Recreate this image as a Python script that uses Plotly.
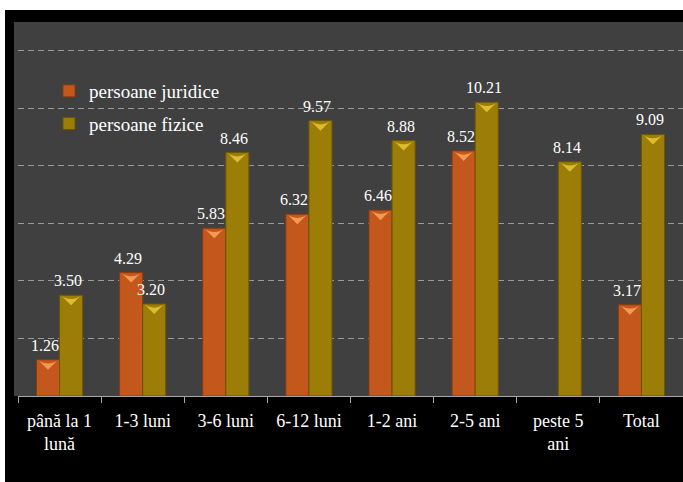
import plotly.graph_objects as go

categories = ["până la 1<br>lună", "1-3 luni", "3-6 luni", "6-12 luni", "1-2 ani", "2-5 ani", "peste 5<br>ani", "Total"]
juridice = [1.26, 4.29, 5.83, 6.32, 6.46, 8.52, None, 3.17]
fizice = [3.50, 3.20, 8.46, 9.57, 8.88, 10.21, 8.14, 9.09]
series_names = ["persoane juridice", "persoane fizice"]

FONT = "Liberation Serif"
BODY = ["#C4581C", "#9C7D07"]
EDGE = ["#8A3A0E", "#6B5604"]
CAP = ["#F39A52", "#DDBD2E"]

W, H = 683, 482
L, R, T, B = 18, 0, 22, 86
PW, PH = W - L - R, H - T - B
YMAX = 13
BARGAP = 0.445
bw = (1 - BARGAP) / 2
idx = list(range(len(categories)))

fig = go.Figure()
annotations = []
for k, vals in enumerate([juridice, fizice]):
    fig.add_trace(go.Bar(
        x=idx, y=vals, name=series_names[k],
        marker=dict(color=BODY[k], line=dict(color=EDGE[k], width=1)),
        legendgroup=str(k),
        hoverinfo="y",
    ))
    off = (k - 0.5) * bw
    for i, v in zip(idx, vals):
        if v is None:
            continue
        annotations.append(dict(
            x=i + off, y=v, xref="x", yref="y", text="%.2f" % v, showarrow=False,
            yanchor="bottom", xanchor="center", yshift=4, xshift=-3,
            font=dict(family=FONT, size=16, color="white"),
        ))

# pyramid caps on top of bars
cap_px = 10.0
cap_units = cap_px * YMAX / PH
for k, vals in enumerate([juridice, fizice]):
    off = (k - 0.5) * bw
    xs = [i + off for i, v in zip(idx, vals) if v is not None]
    ys = [v - cap_units for v in vals if v is not None]
    fig.add_trace(go.Scatter(
        x=xs, y=ys, mode="markers", showlegend=False, hoverinfo="skip",
        marker=dict(symbol="arrow-wide", angle=180, size=15, color=CAP[k],
                    line=dict(width=0)),
        cliponaxis=False,
    ))

def px_x(p):
    return (p - L) / PW

def px_y(p):
    return (H - B - p) / PH

shapes = [
    dict(type="rect", xref="paper", yref="paper", x0=px_x(14), x1=1, y0=0, y1=1,
         fillcolor="#404040", line=dict(width=0), layer="below"),
    dict(type="rect", xref="paper", yref="paper", x0=px_x(0), x1=1, y0=px_y(10), y1=px_y(0),
         fillcolor="white", line=dict(width=0), layer="below"),
    dict(type="rect", xref="paper", yref="paper", x0=px_x(0), x1=px_x(5), y0=px_y(H), y1=px_y(0),
         fillcolor="white", line=dict(width=0), layer="below"),
]

fig.update_layout(
    width=W, height=H,
    margin=dict(l=L, r=R, t=T, b=B, pad=0),
    paper_bgcolor="black", plot_bgcolor="#404040",
    barmode="group", bargap=BARGAP, bargroupgap=0,
    shapes=shapes, annotations=annotations,
    showlegend=True,
    legend=dict(x=px_x(49), y=px_y(72), xanchor="left", yanchor="top",
                bgcolor="rgba(0,0,0,0)", font=dict(family=FONT, size=19, color="white"),
                tracegroupgap=5, traceorder="grouped", itemwidth=30),
    font=dict(family=FONT, color="white"),
)
fig.update_xaxes(
    range=[-0.5, len(categories) - 0.5],
    tickmode="array", tickvals=idx, ticktext=categories,
    ticks="", showgrid=False, zeroline=False,
    showline=True, linecolor="#a6a6a6", linewidth=1,
    tickfont=dict(family=FONT, size=18, color="white"),
    ticklabelstandoff=8,
    minor=dict(tick0=-0.5, dtick=1, ticks="outside", ticklen=6, tickcolor="#a6a6a6", showgrid=False),
)
fig.update_yaxes(
    range=[0, YMAX], tickmode="array", tickvals=[2, 4, 6, 8, 10, 12],
    showticklabels=False, ticks="", zeroline=False,
    showgrid=True, gridcolor="#9a9a9a", gridwidth=1, griddash="6px,4px",
)

fig.write_html("out.html", config={"displayModeBar": False},
               post_script="document.body.style.margin='0';document.body.style.overflow='hidden';")
